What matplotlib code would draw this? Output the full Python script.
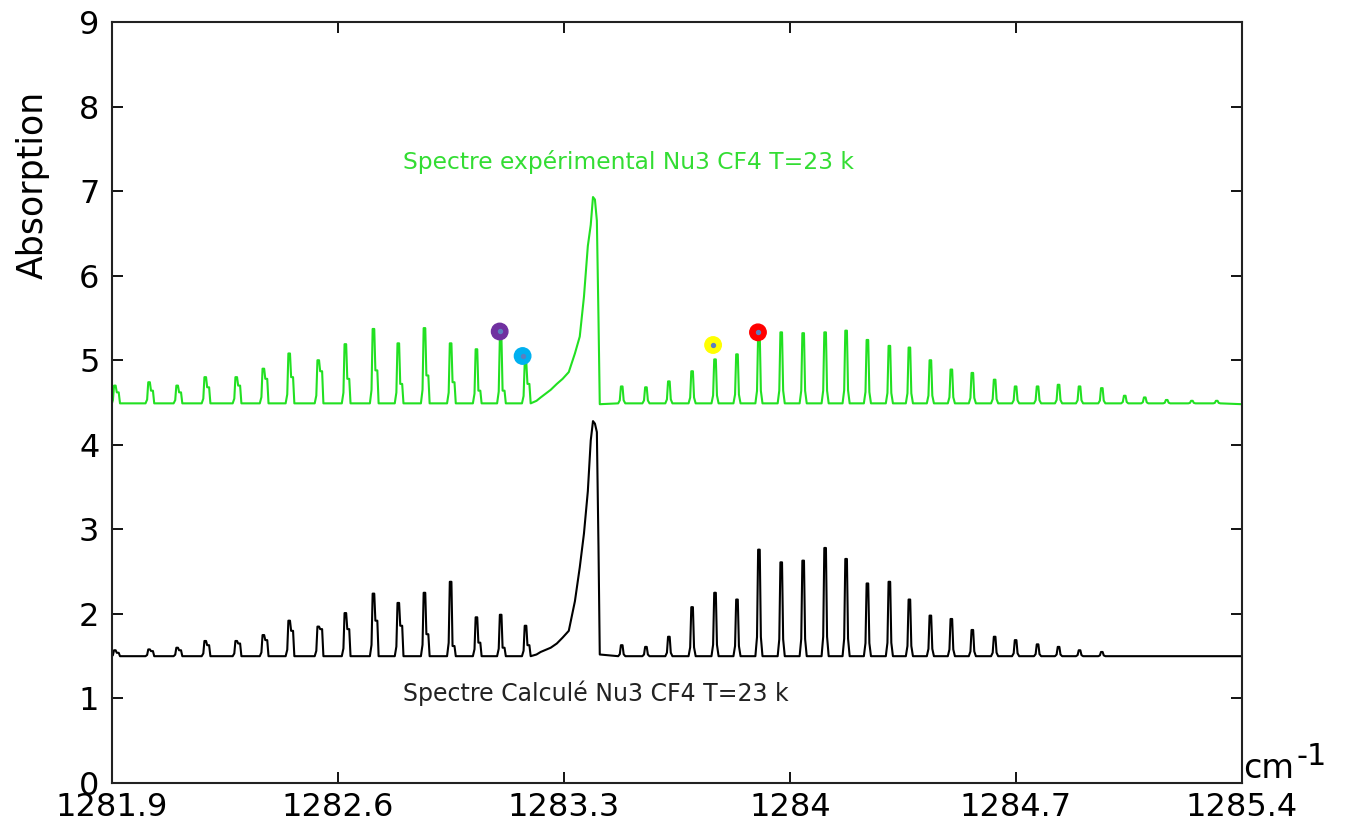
import numpy as np
import matplotlib.pyplot as plt

# wavenumber positions (cm-1) of the resolved lines
left_pos = [1281.909, 1282.015, 1282.102, 1282.189, 1282.285, 1282.369, 1282.449, 1282.539,
            1282.623, 1282.710, 1282.787, 1282.868, 1282.949, 1283.029, 1283.104, 1283.181]
right_pos = [1283.479, 1283.554, 1283.625, 1283.697, 1283.768, 1283.836, 1283.904, 1283.973,
             1284.041, 1284.109, 1284.174, 1284.240, 1284.308, 1284.370, 1284.435, 1284.500,
             1284.565, 1284.634, 1284.699, 1284.767, 1284.832, 1284.897, 1284.966, 1285.037,
             1285.099, 1285.167, 1285.245, 1285.322]

# experimental spectrum (green)
exp_base = 4.49
exp_left = [4.70, 4.74, 4.70, 4.80, 4.80, 4.90, 5.08, 5.00, 5.19, 5.37, 5.20, 5.38, 5.20, 5.13, 5.26, 4.97]
exp_left_sh = [4.62, 4.64, 4.62, 4.68, 4.70, 4.78, 4.80, 4.87, 4.78, 4.88, 4.72, 4.82, 4.74, 4.64, 4.64, 4.72]
exp_right = [4.69, 4.68, 4.75, 4.87, 5.01, 5.07, 5.31, 5.33, 5.32, 5.33, 5.35, 5.24, 5.17, 5.15,
             5.00, 4.89, 4.85, 4.77, 4.69, 4.69, 4.71, 4.69, 4.67, 4.58, 4.56, 4.53, 4.52, 4.52]

# calculated spectrum (black)
calc_base = 1.50
calc_left = [1.57, 1.58, 1.60, 1.68, 1.68, 1.75, 1.92, 1.85, 2.01, 2.24, 2.13, 2.25, 2.38, 1.96, 1.99, 1.86]
calc_left_sh = [1.54, 1.56, 1.57, 1.63, 1.65, 1.69, 1.80, 1.82, 1.82, 1.92, 1.86, 1.76, 1.62, 1.66, 1.60, 1.63]
calc_right = [1.63, 1.61, 1.73, 2.08, 2.25, 2.17, 2.76, 2.61, 2.63, 2.78, 2.65, 2.36, 2.38, 2.17,
              1.98, 1.94, 1.81, 1.73, 1.69, 1.64, 1.61, 1.57, 1.55, 1.50, 1.50, 1.50, 1.50, 1.50]

# Q branch
q_x = [1283.215, 1283.228, 1283.259, 1283.278, 1283.296, 1283.315, 1283.334, 1283.349,
       1283.362, 1283.374, 1283.383, 1283.390, 1283.396, 1283.402, 1283.407, 1283.411]
q_exp = [4.52, 4.56, 4.65, 4.72, 4.78, 4.86, 5.08, 5.28, 5.75, 6.35, 6.60, 6.93, 6.90, 6.65, 5.50, 4.48]
q_calc = [1.52, 1.55, 1.60, 1.65, 1.72, 1.80, 2.15, 2.55, 2.95, 3.45, 4.05, 4.28, 4.25, 4.15, 2.80, 1.52]

# coloured marks on the experimental lines
mark_x = [1283.101, 1283.172, 1283.762, 1283.901]
mark_y = [5.34, 5.05, 5.18, 5.33]
mark_colors = ['#7030a0', '#00b0f0', '#ffff00', '#ff0000']

xmin, xmax = 1281.9, 1285.4


def spectrum(base, end_base, pos, tops, shoulders, qx, qy):
    pts = [(xmin, base), (xmax, end_base)]
    for i, (c, t) in enumerate(zip(pos, tops)):
        ped = base + 0.18 * (t - base)
        pts += [(c - 0.011, base), (c - 0.006, ped), (c - 0.0025, t), (c + 0.0025, t)]
        if shoulders is not None and i < len(shoulders):
            pts += [(c + 0.006, shoulders[i]), (c + 0.012, shoulders[i]), (c + 0.016, base)]
        else:
            pts += [(c + 0.006, ped), (c + 0.011, base)]
    pts += list(zip(qx, qy))
    pts.sort(key=lambda p: p[0])
    return [p[0] for p in pts], [p[1] for p in pts]


plt.rcParams['font.family'] = 'DejaVu Sans'
fig = plt.figure(figsize=(13.47, 8.30), dpi=100)
ax = fig.add_axes([0.0831, 0.0566, 0.8389, 0.9169])

ex, ey = spectrum(exp_base, 4.48, left_pos + right_pos, exp_left + exp_right, exp_left_sh, q_x, q_exp)
cx, cy = spectrum(calc_base, 1.50, left_pos + right_pos, calc_left + calc_right, calc_left_sh, q_x, q_calc)
ax.plot(ex, ey, color='#22e022', lw=1.5)
ax.plot(cx, cy, color='black', lw=1.5)

ax.scatter(mark_x, mark_y, s=140, c=mark_colors, zorder=5)
ax.scatter(mark_x, mark_y, s=8, c='#5b7fc0', zorder=6)

ax.text(1282.80, 7.35, 'Spectre expérimental Nu3 CF4 T=23 k', color='#33dd33',
        fontsize=16.8, va='center', ha='left')
ax.text(1282.80, 1.06, 'Spectre Calculé Nu3 CF4 T=23 k', color='#222222',
        fontsize=17, va='center', ha='left')

ax.set_xlim(xmin, xmax)
ax.set_ylim(0, 9)
ax.set_xticks([1281.9, 1282.6, 1283.3, 1284.0, 1284.7, 1285.4])
ax.set_xticklabels(['1281.9', '1282.6', '1283.3', '1284', '1284.7', '1285.4'])
ax.set_yticks(range(10))
ax.tick_params(direction='in', length=8, width=1.3, top=True, right=True, labelsize=23)
ax.tick_params(axis='x', pad=6.5)
ax.tick_params(axis='y', pad=9)
for sp in ax.spines.values():
    sp.set_linewidth(1.5)
    sp.set_color('#222222')

ax.set_ylabel('Absorption', fontsize=25)
ax.yaxis.set_label_coords(-0.055, 0.786)

ax.text(1.001, 0.007, 'cm', transform=ax.transAxes, fontsize=24, va='baseline', ha='left')
ax.text(1.048, 0.024, '-1', transform=ax.transAxes, fontsize=22, va='baseline', ha='left')

plt.savefig('out.png', dpi=100)
